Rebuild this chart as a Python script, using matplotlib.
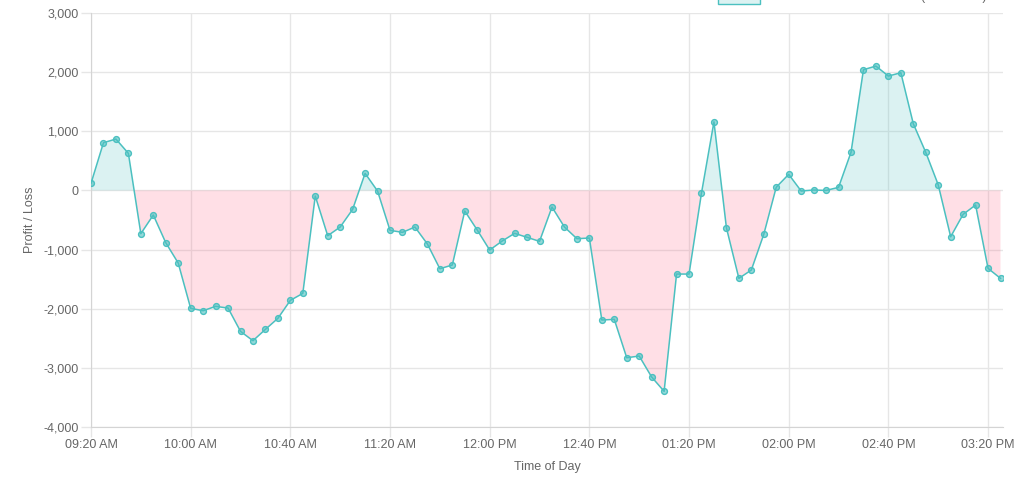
import matplotlib
matplotlib.use("Agg")
import matplotlib.pyplot as plt
import numpy as np
from matplotlib.patches import Rectangle

plt.rcParams['font.family'] = ['Liberation Sans', 'DejaVu Sans']

# minutes after 09:20, one point every 5 minutes until 03:25 PM
minutes = list(range(0, 370, 5))
pnl = [120, 807, 869, 627, -731, -416, -884, -1228, -1994, -2034,
       -1960, -1989, -2383, -2541, -2349, -2163, -1859, -1741, -95, -766,
       -619, -320, 289, -10, -675, -709, -619, -906, -1324, -1261,
       -348, -670, -1008, -856, -726, -793, -861, -281, -619, -816,
       -805, -2191, -2180, -2829, -2800, -3155, -3397, -1414, -1414, -44,
       1160, -631, -1487, -1346, -742, 55, 272, -10, 7, 0,
       52, 644, 2041, 2103, 1934, 1990, 1128, 644, 96, -783,
       -404, -247, -1318, -1487]
tick_minutes = [0, 40, 80, 120, 160, 200, 240, 280, 320, 360]
tick_labels = ['09:20 AM', '10:00 AM', '10:40 AM', '11:20 AM', '12:00 PM',
               '12:40 PM', '01:20 PM', '02:00 PM', '02:40 PM', '03:20 PM']
y_ticks = [3000, 2000, 1000, 0, -1000, -2000, -3000, -4000]
legend_label = 'Profit / Loss on 27/11/2020 (Scanner 1)'

teal = (75/255, 192/255, 192/255)
pink = (255/255, 99/255, 132/255)
grid_c = '#e6e6e6'
txt_c = '#666666'

x = np.array(minutes, dtype=float)
y = np.array(pnl, dtype=float)

fig = plt.figure(figsize=(10.24, 4.82), dpi=100)
ax = fig.add_axes([91/1024, 1-427/482, 912/1024, 414/482])

ax.fill_between(x, y, 0, where=y >= 0, interpolate=True,
                color=teal, alpha=0.2, linewidth=0)
ax.fill_between(x, y, 0, where=y <= 0, interpolate=True,
                color=pink, alpha=0.2, linewidth=0)
ax.plot(x, y, color=teal, linewidth=1.1, zorder=3)
ax.plot(x, y, 'o', markersize=4.2, markerfacecolor=(*teal, 0.6),
        markeredgecolor=teal, markeredgewidth=1, zorder=4)

ax.set_xlim(0, 366)
ax.set_ylim(-4000, 3000)
ax.set_xticks(tick_minutes)
ax.set_xticklabels(tick_labels)
ax.set_yticks(y_ticks)
ax.set_yticklabels([f'{v:,}' for v in y_ticks])

ax.grid(True, color=grid_c, linewidth=1)
ax.set_axisbelow(True)
for s in ['top', 'right']:
    ax.spines[s].set_visible(False)
for s in ['left', 'bottom']:
    ax.spines[s].set_color('#d4d4d4')
ax.tick_params(axis='both', length=7.5, width=1, color=grid_c,
               labelcolor=txt_c, labelsize=9, pad=1.5)

ax.set_xlabel('Time of Day', color=txt_c, fontsize=9, labelpad=7)
ax.set_ylabel('Profit / Loss', color=txt_c, fontsize=9, labelpad=5)

# legend box, cut off by the top edge as in the original
fig.patches.append(Rectangle((718/1024, 1-4/482), 42/1024, 14/482,
                             transform=fig.transFigure, facecolor=(*teal, 0.2),
                             edgecolor=teal, linewidth=1))
fig.text(768/1024, 1+3/482, legend_label, color=txt_c, fontsize=9,
         ha='left', va='center')

fig.savefig('out.png', dpi=100)
